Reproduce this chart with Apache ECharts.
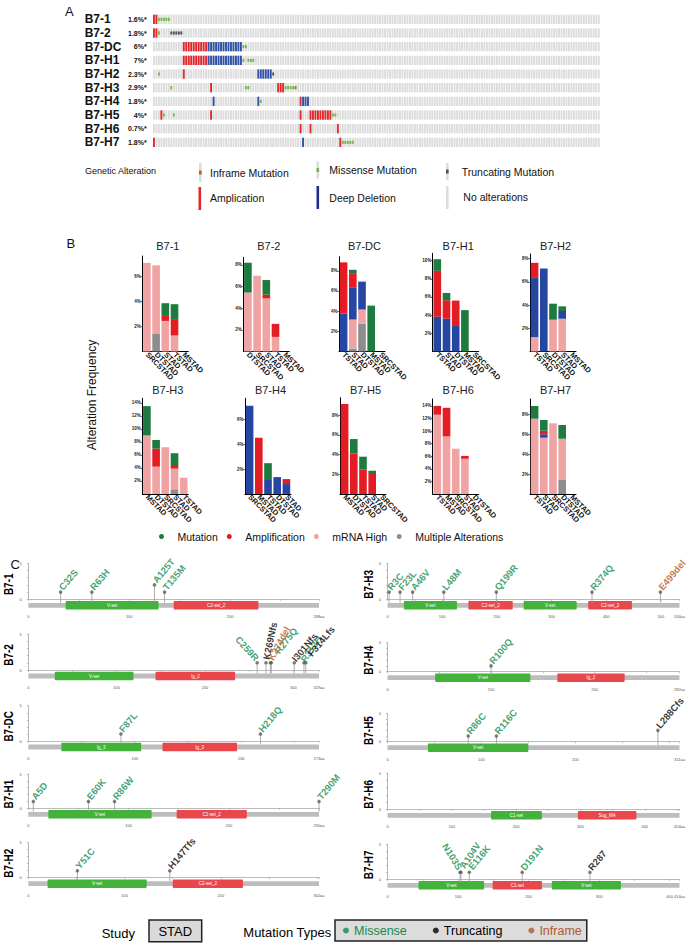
<!DOCTYPE html>
<html><head><meta charset="utf-8">
<script src="https://cdn.jsdelivr.net/npm/echarts@6/dist/echarts.min.js"></script>
<style>html,body{margin:0;padding:0;background:#fff}#c{width:689px;height:947px}</style>
</head><body><div id="c"></div>
<script>
const FONT = '"Liberation Sans", Arial, Helvetica, sans-serif';

// ---------------- Panel A : oncoprint ----------------
const oncoGenes = ['B7-1','B7-2','B7-DC','B7-H1','B7-H2','B7-H3','B7-H4','B7-H5','B7-H6','B7-H7'];
const oncoPct = ['1.6%*','1.8%*','6%*','7%*','2.3%*','2.9%*','1.8%*','4%*','0.7%*','1.8%*'];
const oncoSamples = 180;
const oncoAmp = [
  [0,1],[0,1],
  [12,13,14,15,16,17,18,19,20,21],
  [12,13,14,15,16,17,18,19,20,21],
  [12],[23,50,51,52],[59],
  [3,23,59,63,64,65,66,67,68,69,70,71],
  [59,63,74],[0,75]
];
const oncoDel = [
  [],[],
  [22,23,24,25,26,27,28,29,30,31,32,33,34,35],
  [22,23,24,25,26,27,28,29,30,31,32,33,34,35],
  [42,43,44,45,46,47],[],[24,42,60,61,62],[],[],[60]
];
const oncoMissense = [
  [2,3,4,5,6],[2],[36,37],[36,38,39,40],[2],[7,37,38,53,54,55,56],[43],[4,8,72,73],[],[76,77,78,79,80]
];
const oncoTrunc = [[],[7,8,9,10,11],[],[],[48],[],[],[],[],[]];
const oncoInframe = [[],[],[],[],[],[57],[],[],[],[]];

// ---------------- Panel B : alteration frequency ----------------
const bTitles = ['B7-1','B7-2','B7-DC','B7-H1','B7-H2','B7-H3','B7-H4','B7-H5','B7-H6','B7-H7'];
const bCats = [
  ['SRCSTAD','DTSTAD','STAD','TSTAD','MSTAD'],
  ['DTSTAD','SRCSTAD','STAD','TSTAD','MSTAD'],
  ['TSTAD','STAD','DTSTAD','MSTAD','SRCSTAD'],
  ['TSTAD','STAD','DTSTAD','MSTAD','SRCSTAD'],
  ['TSTAD','SRCSTAD','DTSTAD','STAD','MSTAD'],
  ['MSTAD','DTSTAD','SRCSTAD','STAD','TSTAD'],
  ['SRCSTAD','MSTAD','TSTAD','DTSTAD','STAD'],
  ['MSTAD','DTSTAD','TSTAD','STAD','SRCSTAD'],
  ['TSTAD','MSTAD','SRCSTAD','STAD','DTSTAD'],
  ['TSTAD','STAD','SRCSTAD','DTSTAD','MSTAD']
];
const bMultiple = [
  [0,1.4,0,0,0],[0,0,0,0,0],[0,0.3,2.77,0,0],[0,0,0,0,0],[0,0,0,0,0],
  [0,0,0,0.72,0],[0,0,0,0,0],[0,0,0,0,0],[0,0,0,0,0],[0,0,0,1.4,0]
];
const bMrna = [
  [7.1,5.5,2.45,1.28,0],[5.45,7.0,4.9,1.35,0],[0,2.87,1.39,0,0],[0,0,0,0,0],[1.24,0,2.74,2.82,0],
  [9.0,4.2,7.18,3.18,2.5],[0,0,0,0,0],[0,0,0,0,0],[12.6,9.15,7.2,5.6,0],[7.53,5.63,7.07,4.13,0]
];
const bDeep = [
  [0,0,0,0,0],[0,0,0,0,0],[3.76,3.2,2.77,0,0],[3.82,3.6,2.8,0,0],[5.1,7.15,0,0.67,0],
  [0,0,0,0,0],[7.1,0,1.2,1.36,0.8],[0,0,0,0,0],[0,0,0,0,0],[0,0.34,0,0,0]
];
const bAmp = [
  [0,0,0.4,1.25,0],[0,0,0.35,1.2,0],[5.08,1.33,0,0,0],[5.05,2.04,2.8,0,0],[1.3,0,0,0,0],
  [0,2.77,0,0.4,0],[0,4.53,0,0,0.4],[9.12,4.12,2.5,2.03,0],[1.4,4.55,0,0.45,0],[0,0.36,0,0,0]
];
const bMut = [
  [0,0,1.02,1.26,0],[2.75,0,1.35,0,0],[0,0.4,0,4.55,0],[1.28,0.8,0,4.55,0],[0,0,1.38,0.4,0],
  [4.5,1.33,0,1.96,0],[0,0,1.28,0,0],[0,1.45,1.28,0.33,0],[0,0,0,0,0],[1.27,1.07,0,1.37,0]
];
const bMax = [7.65, 8.7, 9.4, 10.8, 8.4, 14.7, 7.7, 9.76, 15.1, 9.5];
const bTicks = [
  [2,4,6],[2,4,6,8],[2,4,6,8],[2,4,6,8,10],[2,4,6,8],
  [2,4,6,8,10,12,14],[2,4,6],[2,4,6,8],[2,4,6,8,10,12,14],[2,4,6,8]
];

// ---------------- Panel C : lollipop plots ----------------
const lpGenes = ['B7-1','B7-2','B7-DC','B7-H1','B7-H2','B7-H3','B7-H4','B7-H5','B7-H6','B7-H7'];
const lpLength = [288, 329, 273, 290, 302, 534, 282, 311, 454, 414];
const lpDomains = [
  [['V-set',37,129],['C2-set_2',144,228]],
  [['V-set',30,119],['Ig_2',144,234]],
  [['Ig_3',31,106],['Ig_3',126,196]],
  [['V-set',20,123],['C2-set_2',148,218]],
  [['V-set',20,123],['C2-set_2',150,223]],
  [['V-set',30,127],['C2-set_2',148,229],['V-set',249,346],['C2-set_2',367,447]],
  [['V-set',46,138],['Ig_2',164,229]],
  [['V-set',43,150]],
  [['C1-set',161,240],['Sug_MA',296,387]],
  [['V-set',44,137],['C1-set',149,219],['V-set',233,331]]
];
const lpMutations = [
  [['C32S',32,1,'Missense'],['R63H',63,1,'Missense'],['A125T',125,2,'Missense'],['T135M',135,1,'Missense']],
  [['C259R',259,1,'Missense'],['K269Nfs',269,1,'Truncating'],['K274del',274,1,'Inframe'],['R275Q',275,1,'Missense'],['I301Nfs',301,1,'Truncating'],['R312H',312,1,'Missense'],['F314Lfs',314,1,'Truncating']],
  [['F87L',87,1,'Missense'],['H218Q',218,1,'Missense']],
  [['A5D',5,1,'Missense'],['E60K',60,1,'Missense'],['R86W',86,1,'Missense'],['T290M',290,1,'Missense']],
  [['Y51C',51,1,'Missense'],['H147Tfs',147,1,'Truncating']],
  [['R3C',3,1,'Missense'],['F23L',23,1,'Missense'],['A46V',46,1,'Missense'],['L48M',103,1,'Missense'],['Q199R',199,1,'Missense'],['R374Q',374,1,'Missense'],['E499del',499,1,'Inframe']],
  [['R100Q',100,1,'Missense']],
  [['R86C',86,1,'Missense'],['R116C',116,1,'Missense'],['L288Cfs',288,2,'Truncating']],
  [],
  [['N103S',103,1,'Missense'],['A104V',104,1,'Missense'],['E116K',116,1,'Missense'],['D191N',191,1,'Missense'],['R287',287,1,'Truncating']]
];
const lpYTicks = [0,1,2,3,4,5];
const lpYLabels = [0,5];
const mutTypes = ['Missense','Truncating','Inframe'];

// ---------------- styles / layout ----------------
const ONCO_COL = ['#dcdcdc','#e3262b','#2f52a8','#74b84a','#505060','#a0692a'];
const B_COL = {multiple:'#8d8d8d', mrna:'#f0a3a3', deep:'#2547a2', amp:'#e31d23', mut:'#1f7a3f'};
const MUT_COL = {Missense:'#128a4c', Truncating:'#000000', Inframe:'#b5582b'};
const labelTweaks = {
  'C259R': {rotate:-48, align:'right'},
  'K269Nfs': {rotate:78},
  'K274del': {rotate:62},
  'R275Q': {rotate:52, offset:[9,0]},
  'I301Nfs': {rotate:50, offset:[-1,0]},
  'R312H': {rotate:56, offset:[-2,0]},
  'F314Lfs': {rotate:50, offset:[6,0]},
  'N103S': {rotate:-58, align:'right'},
  'A104V': {rotate:56, offset:[2,0]},
  'E116K': {rotate:50, offset:[1,0]}
};
const bLeft = [142.3, 243.3, 339, 432.7, 530, 142.3, 245, 340, 432.7, 530];
const bTop = [256, 257.3, 256.7, 253.3, 254, 398.3, 398.3, 397.7, 399, 399];
const cTop = [563.3, 634, 705.7, 774, 842.7, 563.3, 642.7, 713.3, 773.3, 844.3];
const cBot = [599.3, 670, 741, 808.3, 877.7, 599.3, 671.7, 741.7, 809.3, 879.3];

const grids = [], xAxes = [], yAxes = [], series = [], graphics = [];
function txt(text, x, y, o) {
  o = o || {};
  return {type:'text', x, y, rotation:o.rotation || 0, scaleX:o.scaleX || 1, silent:true,
    style:{text, fontSize:o.size || 10, fontFamily:FONT, fontWeight:o.weight || 'normal', fill:o.color || '#111',
      align:o.align || 'left', textAlign:o.align || 'left', verticalAlign:'middle', textVerticalAlign:'middle'}};
}

// ---- Panel A build
grids.push({left:152.7, top:12.5, width:447.3, height:136.7});
xAxes.push({type:'value', gridIndex:0, min:-0.5, max:oncoSamples - 0.5, show:false});
yAxes.push({type:'category', gridIndex:0, data:oncoGenes, inverse:true,
  axisLine:{show:false}, axisTick:{show:false}, splitLine:{show:false},
  axisLabel:{interval:0, margin:6, formatter:(v, i) => '{g|' + v + '}{p|' + oncoPct[i] + '}',
    rich:{g:{width:37, align:'left', fontSize:12, fontWeight:'bold', fontFamily:FONT, color:'#111'},
          p:{width:25, align:'right', fontSize:7, fontWeight:'bold', fontFamily:FONT, color:'#111'}}}});
const oncoData = [];
oncoGenes.forEach((g, r) => { for (let c = 0; c < oncoSamples; c++) oncoData.push([c, r, 0]); });
[[oncoAmp,1],[oncoDel,2],[oncoMissense,3],[oncoTrunc,4],[oncoInframe,5]].forEach(([arr, k]) =>
  arr.forEach((cols, r) => cols.forEach(c => oncoData.push([c, r, k]))));
series.push({type:'custom', name:'oncoprint', xAxisIndex:0, yAxisIndex:0, silent:true, data:oncoData,
  encode:{x:0, y:1},
  renderItem:(params, api) => {
    const c = api.value(0), r = api.value(1), k = api.value(2);
    const p = api.coord([c, r]);
    const sz = api.size([1, 1]);
    const w = sz[0] * 0.76;
    const h = (k >= 3 ? 0.23 : 0.68) * sz[1];
    return {type:'rect', shape:{x:p[0] - w / 2, y:p[1] - h / 2, width:w, height:h}, style:{fill:ONCO_COL[k]}};
  }});
graphics.push(txt('A', 65, 11.5, {size:13}));
// legend of panel A
graphics.push(txt('Genetic Alteration', 85, 170.7, {size:9}));
const aLeg = [
  ['Inframe Mutation', 199, 163, 19, 5, 210, 172.7],
  ['Missense Mutation', 316.5, 161.5, 17, 3, 329.3, 170],
  ['Truncating Mutation', 446, 163, 17, 4, 461.7, 171.7],
  ['Amplication', 198.5, 187, 23, 1, 210, 198.3],
  ['Deep Deletion', 316.5, 186, 23, 2, 329.3, 197.7],
  ['No alterations', 446, 186, 23, 0, 463.3, 196.7]
];
aLeg.forEach(([t, x, y, h, k, tx, ty]) => {
  const full = k <= 2;
  graphics.push({type:'rect', silent:true, shape:{x, y, width:2.6, height:h}, style:{fill: full ? (k === 2 ? '#232c86' : ONCO_COL[k]) : ONCO_COL[0]}});
  if (!full) graphics.push({type:'rect', silent:true, shape:{x, y:y + h / 2 - 2, width:2.6, height:4}, style:{fill:ONCO_COL[k]}});
  graphics.push(txt(t, tx, ty, {size:10.5}));
});

// ---- Panel B build
const bDefs = [['Multiple Alterations', bMultiple, B_COL.multiple], ['mRNA High', bMrna, B_COL.mrna],
  ['Deep Deletion', bDeep, B_COL.deep], ['Amplification', bAmp, B_COL.amp], ['Mutation', bMut, B_COL.mut]];
bTitles.forEach((t, i) => {
  const gi = grids.length;
  const row = i < 5 ? 0 : 1;
  const bottom = row ? 494 : 351.5;
  grids.push({left:bLeft[i], top:bTop[i], width:46, height:bottom - bTop[i]});
  xAxes.push({type:'category', gridIndex:gi, data:bCats[i],
    axisLine:{lineStyle:{color:'#000', width:1}}, axisTick:{show:false},
    axisLabel:{interval:0, rotate:-45, fontSize:7.5, fontWeight:'bold', fontFamily:FONT, color:'#111', margin:2}});
  yAxes.push({type:'value', gridIndex:gi, min:0, max:bMax[i], splitLine:{show:false},
    axisLine:{show:true, lineStyle:{color:'#000', width:1}},
    axisTick:{show:true, length:1.5, customValues:bTicks[i], lineStyle:{color:'#000', width:0.6}},
    axisLabel:{customValues:bTicks[i], formatter:v => v + '%', fontSize:4.5, fontWeight:'bold', fontFamily:FONT, color:'#222', margin:1.5}});
  bDefs.forEach(([name, arr, color]) => series.push({type:'bar', name, xAxisIndex:gi, yAxisIndex:gi, stack:'b' + i,
    data:arr[i], barCategoryGap:'17%', itemStyle:{color}, silent:true}));
  graphics.push(txt(t, bLeft[i] + 25.5, row ? 390 : 245.7, {size:11, align:'center', color:'#222'}));
});
graphics.push(txt('B', 66.5, 243.5, {size:13}));
graphics.push(txt('Alteration Frequency', 92, 395, {size:12, align:'center', rotation:Math.PI / 2}));

// ---- Panel C build
lpGenes.forEach((g, i) => {
  const gi = grids.length;
  const col = i < 5 ? 0 : 1;
  const left = col ? 387.5 : 28.3, right = col ? 679.5 : 319;
  grids.push({left, top:cTop[i], width:right - left, height:cBot[i] - cTop[i]});
  const len = lpLength[i];
  const tickVals = []; for (let v = 0; v < len; v += 50) tickVals.push(v); tickVals.push(len);
  const labVals = []; for (let v = 0; v < len - 12; v += 100) labVals.push(v); labVals.push(len);
  xAxes.push({type:'value', gridIndex:gi, min:0, max:len, offset:13.5, splitLine:{show:false},
    axisLine:{lineStyle:{color:'#aaa', width:0.8}},
    axisTick:{show:true, customValues:tickVals, length:1.5, lineStyle:{color:'#999', width:0.6}},
    axisLabel:{customValues:labVals, formatter:v => (v === len ? v + 'aa' : '' + v), fontSize:4, color:'#555', margin:2, fontFamily:FONT}});
  yAxes.push({type:'value', gridIndex:gi, min:0, max:lpYTicks[lpYTicks.length - 1], offset:5, splitLine:{show:false},
    axisLine:{show:true, lineStyle:{color:'#999', width:0.7}},
    axisTick:{show:true, customValues:lpYTicks, length:1.5, lineStyle:{color:'#999', width:0.6}},
    axisLabel:{customValues:lpYLabels, fontSize:4, color:'#555', margin:1.5, fontFamily:FONT}});
  const doms = lpDomains[i];
  const bbData = [[0, len, -1]].concat(doms.map((d, j) => [d[1], d[2], j]));
  series.push({type:'custom', name:'protein', xAxisIndex:gi, yAxisIndex:gi, silent:true, clip:false,
    data:bbData, encode:{x:[0, 1], y:2},
    renderItem:(params, api) => {
      const s = api.value(0), e = api.value(1), j = api.value(2);
      const p0 = api.coord([s, 0]), p1 = api.coord([e, 0]);
      const yc = p0[1] + 6;
      if (j < 0) return {type:'rect', shape:{x:p0[0], y:yc - 2.4, width:p1[0] - p0[0], height:4.8}, style:{fill:'#bdbdbd'}};
      const h = 8.4;
      return {type:'group', children:[
        {type:'rect', shape:{x:p0[0], y:yc - h / 2, width:p1[0] - p0[0], height:h, r:0.8}, style:{fill: j % 2 ? '#e8474c' : '#42b23a'}},
        {type:'text', style:{text:doms[j][0], x:(p0[0] + p1[0]) / 2, y:yc, fill:'#fff', fontSize:4.5, fontFamily:FONT,
          align:'center', textAlign:'center', verticalAlign:'middle', textVerticalAlign:'middle'}}
      ]};
    }});
  const muts = lpMutations[i];
  if (muts.length) {
    series.push({type:'custom', name:'stems', xAxisIndex:gi, yAxisIndex:gi, silent:true, clip:false,
      data:muts.map(m => [m[1], m[2]]), encode:{x:0, y:1},
      renderItem:(params, api) => {
        const p = api.coord([api.value(0), api.value(1)]);
        const b = api.coord([api.value(0), 0]);
        return {type:'line', shape:{x1:p[0], y1:b[1] + 3.4, x2:p[0], y2:p[1]}, style:{stroke:'#9a9a9a', lineWidth:0.8}};
      }});
    mutTypes.forEach(tp => {
      const sub = muts.filter(m => m[3] === tp);
      if (!sub.length) return;
      series.push({type:'scatter', name:tp, xAxisIndex:gi, yAxisIndex:gi, clip:false, silent:true,
        symbolSize:3.6, itemStyle:{color:'#5c5c5c'}, z:5,
        label:{show:true, formatter:'{b}', position:'top', distance:1.5, rotate:50, align:'left', verticalAlign:'middle',
          fontSize:9.5, fontWeight:'bold', fontFamily:FONT, color:MUT_COL[tp]},
        data:sub.map(m => {
          const item = {name:m[0], value:[m[1], m[2]]};
          if (labelTweaks[m[0]]) item.label = labelTweaks[m[0]];
          return item;
        })});
    });
  }
  graphics.push(txt(g, col ? 369 : 8.5, (cTop[i] + cBot[i]) / 2 + 3, {size:12.5, weight:'bold', align:'center', rotation:Math.PI / 2, scaleX:0.8, color:'#000'}));
});
graphics.push(txt('C', 10.5, 564, {size:13}));
// Study box
graphics.push(txt('Study', 101.7, 933, {size:13, color:'#000'}));
graphics.push({type:'rect', silent:true, shape:{x:149, y:920, width:52.7, height:21.7}, style:{fill:'#d9d9d9', stroke:'#222', lineWidth:1.5}});
graphics.push(txt('STAD', 175.3, 931, {size:13, align:'center', color:'#000'}));
graphics.push(txt('Mutation Types', 243.3, 932.3, {size:13, color:'#000'}));

const option = {
  animation:false,
  backgroundColor:'#ffffff',
  grid:grids, xAxis:xAxes, yAxis:yAxes, series,
  legend:[
    {left:159, top:531, padding:0, selectedMode:false, icon:'circle', itemWidth:22, itemHeight:5, itemGap:9,
      textStyle:{fontSize:10.5, fontFamily:FONT, color:'#111'},
      data:['Mutation','Amplification','mRNA High','Multiple Alterations']},
    {left:335, top:920, padding:[4,5,4,8], selectedMode:false, icon:'circle', itemWidth:6, itemHeight:6, itemGap:26,
      backgroundColor:'#dcdcdc', borderColor:'#222', borderWidth:1.5,
      textStyle:{fontSize:12.5, fontFamily:FONT},
      data:mutTypes.map(t => ({name:t, itemStyle:{color:MUT_COL[t]}, textStyle:{color:MUT_COL[t]}}))}
  ],
  graphic:{elements:graphics}
};
const chart = echarts.init(document.getElementById('c'), null, {renderer:'svg', width:689, height:947});
chart.setOption(option);
</script></body></html>
